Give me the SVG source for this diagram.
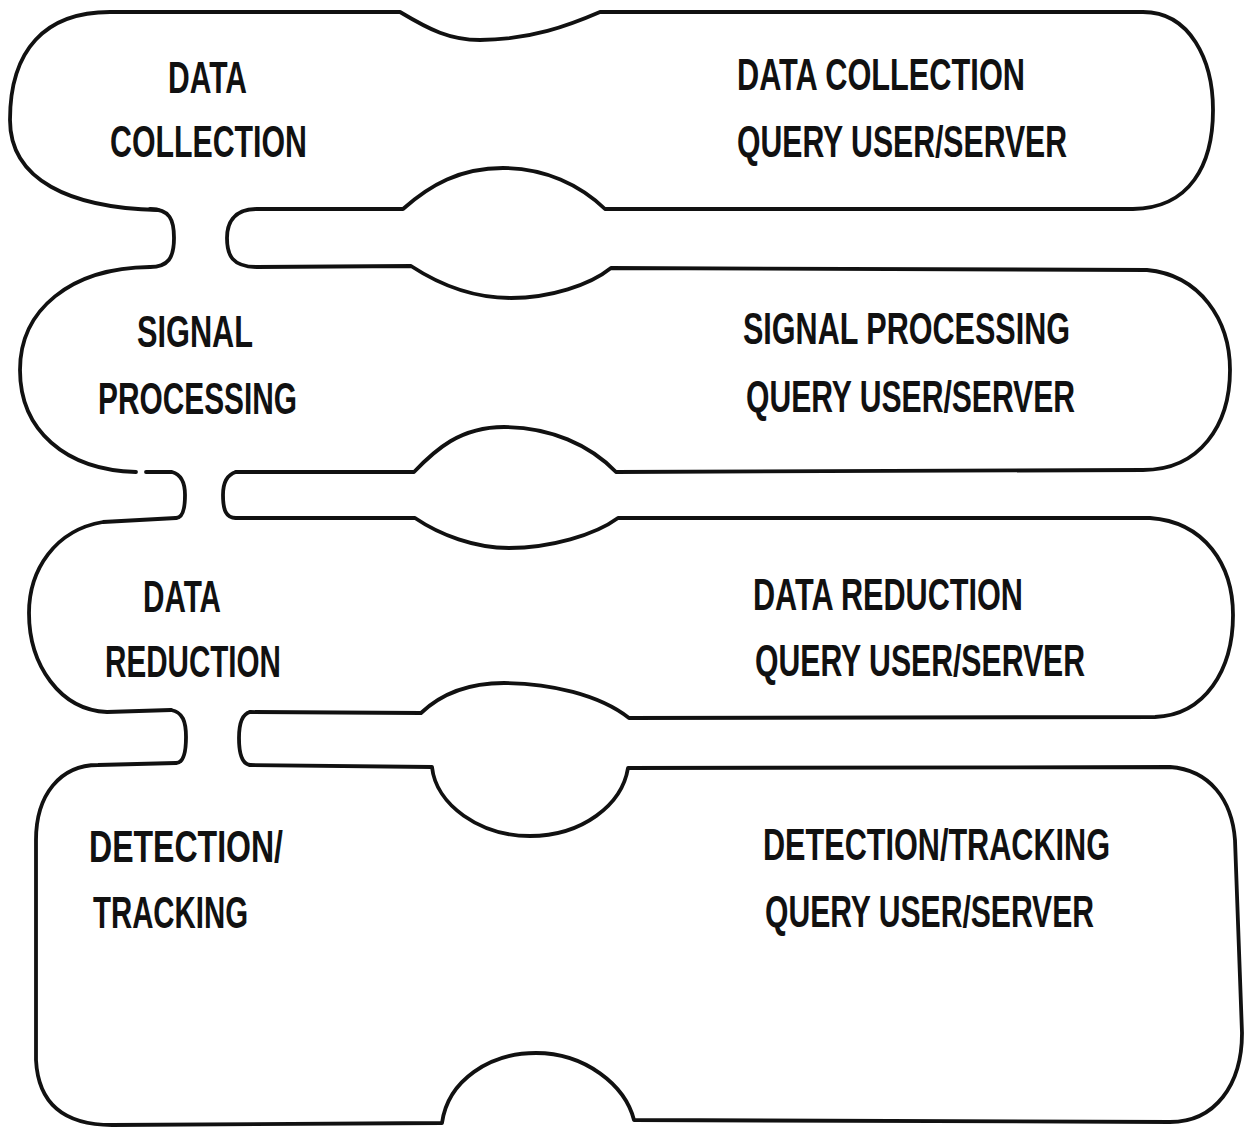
<svg xmlns="http://www.w3.org/2000/svg" width="1247" height="1134" viewBox="0 0 1247 1134">
<style>
.o{fill:none;stroke:#111;stroke-width:3.8;stroke-linecap:round;stroke-linejoin:round}
.t{font-family:"Liberation Sans","DejaVu Sans",sans-serif;font-weight:bold;font-size:44px;fill:#111}
</style>
<rect width="1247" height="1134" fill="#fff"/>
<g id="stage1">
<path class="o" d="M158 210 C70 208 10 180 10 120 C10 50 45 12 110 12 L400 12 C430 30 450 40 480 40 C530 40 570 25 600 12 L1143 12 C1190 12 1213 60 1213 110 C1213 165 1190 208 1133 209 L605 209 C580 185 545 168 503 168 C460 168 430 185 403 209 L257 209"/>
<text class="t" x="168" y="93" textLength="79" lengthAdjust="spacingAndGlyphs">DATA</text>
<text class="t" x="110" y="157" textLength="197" lengthAdjust="spacingAndGlyphs">COLLECTION</text>
<text class="t" x="737" y="90" textLength="288" lengthAdjust="spacingAndGlyphs">DATA COLLECTION</text>
<text class="t" x="737" y="157" textLength="330" lengthAdjust="spacingAndGlyphs">QUERY USER/SERVER</text>
</g>
<g id="stage2">
<path class="o" d="M150 267 C70 268 20 310 20 370 C20 430 65 470 136 472"/>
<path class="o" d="M257 267 L411 266 C440 285 475 298 511 298 C550 298 590 285 611 268 L1147 270 C1200 275 1230 320 1230 370 C1230 425 1200 470 1143 470 L616 472 C590 445 550 427 504 427 C460 427 435 450 414 472 L236 472"/>
<text class="t" x="137" y="347" textLength="116" lengthAdjust="spacingAndGlyphs">SIGNAL</text>
<text class="t" x="98" y="414" textLength="199" lengthAdjust="spacingAndGlyphs">PROCESSING</text>
<text class="t" x="743" y="344" textLength="327" lengthAdjust="spacingAndGlyphs">SIGNAL PROCESSING</text>
<text class="t" x="746" y="412" textLength="329" lengthAdjust="spacingAndGlyphs">QUERY USER/SERVER</text>
</g>
<g id="stage3">
<path class="o" d="M176 518 L103 522 C55 530 29 570 29 613 C29 665 60 710 107 712 L171 710"/>
<path class="o" d="M236 518 L415 518 C440 535 475 548 509 548 C550 548 595 535 618 518 L1150 518 C1205 522 1233 565 1233 615 C1233 670 1205 715 1155 717 L629 718 C600 695 550 683 504 683 C465 683 440 695 421 713 L250 712"/>
<text class="t" x="143" y="612" textLength="78" lengthAdjust="spacingAndGlyphs">DATA</text>
<text class="t" x="105" y="677" textLength="176" lengthAdjust="spacingAndGlyphs">REDUCTION</text>
<text class="t" x="753" y="610" textLength="270" lengthAdjust="spacingAndGlyphs">DATA REDUCTION</text>
<text class="t" x="755" y="676" textLength="330" lengthAdjust="spacingAndGlyphs">QUERY USER/SERVER</text>
</g>
<g id="stage4">
<path class="o" d="M250 765 L432 767 C436 805 480 836 530 836 C582 836 622 805 628 768 L1170 767 C1210 770 1232 800 1235 840 L1242 1033 C1242 1085 1215 1122 1170 1122 L634 1120 C625 1085 585 1053 536 1053 C490 1053 448 1080 442 1123 L112 1125 C60 1125 38 1100 36 1060 L36 840 C36 795 60 765 98 765 L176 763"/>
<text class="t" x="89" y="862" textLength="194" lengthAdjust="spacingAndGlyphs">DETECTION/</text>
<text class="t" x="93" y="928" textLength="155" lengthAdjust="spacingAndGlyphs">TRACKING</text>
<text class="t" x="763" y="860" textLength="347" lengthAdjust="spacingAndGlyphs">DETECTION/TRACKING</text>
<text class="t" x="765" y="927" textLength="329" lengthAdjust="spacingAndGlyphs">QUERY USER/SERVER</text>
</g>
<g id="connectors">
<path class="o" d="M150 209 C170 209 174 220 174 238 C174 258 168 267 150 267"/>
<path class="o" d="M257 209 C232 209 227 225 227 238 C227 255 232 267 257 267"/>
<path class="o" d="M146 472 L172 472 C183 475 185 485 185 495 C185 510 182 518 176 518"/>
<path class="o" d="M236 472 C226 475 223 485 223 495 C223 510 226 518 236 518"/>
<path class="o" d="M171 710 C183 712 186 722 186 737 C186 752 184 763 176 763"/>
<path class="o" d="M250 712 C242 714 239 725 239 738 C239 752 242 764 250 765"/>
</g>
</svg>
